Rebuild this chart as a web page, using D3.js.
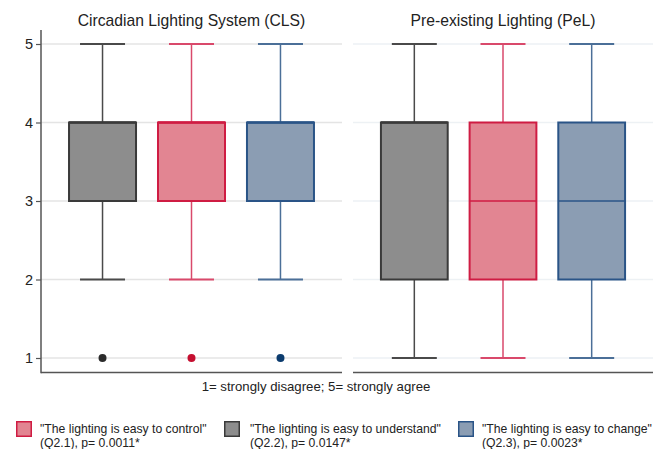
<!DOCTYPE html>
<html>
<head>
<meta charset="utf-8">
<script src="https://cdn.jsdelivr.net/npm/d3@7"></script>
<style>
  html, body { margin: 0; padding: 0; background: #fff; }
  svg { display: block; font-family: "Liberation Sans", Arial, Helvetica, sans-serif; }
</style>
</head>
<body>
<svg id="chart" width="654" height="449"></svg>
<script>
// Panels (lighting condition) and question order inside each panel
const panels = ["Circadian Lighting System (CLS)", "Pre-existing Lighting (PeL)"];
const questions = ["Q2.2", "Q2.1", "Q2.3"];

// Box-plot summaries per panel, in question order: [min, q1, median, q3, max]
const clsStats = [
  [2, 3, 4, 4, 5],
  [2, 3, 4, 4, 5],
  [2, 3, 4, 4, 5]
];
const pelStats = [
  [1, 2, 4, 4, 5],
  [1, 2, 3, 4, 5],
  [1, 2, 3, 4, 5]
];
// Outlying responses per panel, in question order
const clsOutliers = [[1], [1], [1]];
const pelOutliers = [[], [], []];

const yTicks = [1, 2, 3, 4, 5];
const caption = "1= strongly disagree; 5= strongly agree";

// Legend entries (legend order differs from plotting order)
const legendKeys = ["Q2.1", "Q2.2", "Q2.3"];
const legendLine1 = ['"The lighting is easy to control"', '"The lighting is easy to understand"', '"The lighting is easy to change"'];
const legendLine2 = ["(Q2.1), p= 0.0011*", "(Q2.2), p= 0.0147*", "(Q2.3), p= 0.0023*"];

// Styling per question
const fillColor = { "Q2.1": "#e28592", "Q2.2": "#8d8d8d", "Q2.3": "#8b9db3" };
const lineColor = { "Q2.1": "#cf1c43", "Q2.2": "#3a3a3a", "Q2.3": "#2a5487" };
const whiskerColor = { "Q2.1": "#d9496b", "Q2.2": "#4a4a4a", "Q2.3": "#4b6f98" };
const dotColor = { "Q2.1": "#c50f30", "Q2.2": "#2b2b2b", "Q2.3": "#0b3b6e" };

const svg = d3.select("#chart");

const y = d3.scaleLinear().domain([1, 5]).range([358, 44]);
const plotTop = 30, plotBottom = 372.5;

const panelRanges = [[41, 342], [353, 653]];
const gridColors = ["#e4e4e4", "#edf1f4"];
const statsByPanel = [clsStats, pelStats];
const outliersByPanel = [clsOutliers, pelOutliers];

panels.forEach((title, p) => {
  const [x0, x1] = panelRanges[p];
  const x = d3.scaleBand().domain(questions).range([x0, x1])
    .paddingInner(0.247).paddingOuter(0.315);
  const g = svg.append("g");

  // horizontal grid
  g.selectAll("line.grid").data(yTicks).join("line")
    .attr("x1", x0).attr("x2", x1)
    .attr("y1", d => y(d)).attr("y2", d => y(d))
    .attr("stroke", gridColors[p]).attr("stroke-width", 1.5);

  // bottom axis line
  g.append("line")
    .attr("x1", x0).attr("x2", x1)
    .attr("y1", plotBottom).attr("y2", plotBottom)
    .attr("stroke", "#555").attr("stroke-width", 1.5);

  // panel title
  g.append("text")
    .attr("x", (x0 + x1) / 2).attr("y", 26)
    .attr("text-anchor", "middle")
    .attr("font-size", 15.7).attr("fill", "#222")
    .text(title);

  const stats = statsByPanel[p];
  const outs = outliersByPanel[p];
  const capW = 45;

  questions.forEach((q, i) => {
    const [mn, q1, med, q3, mx] = stats[i];
    const cx = x(q) + x.bandwidth() / 2;
    const bx = g.append("g");

    // whiskers
    bx.append("line").attr("x1", cx).attr("x2", cx)
      .attr("y1", y(q3)).attr("y2", y(mx))
      .attr("stroke", whiskerColor[q]).attr("stroke-width", 1.5);
    bx.append("line").attr("x1", cx).attr("x2", cx)
      .attr("y1", y(q1)).attr("y2", y(mn))
      .attr("stroke", whiskerColor[q]).attr("stroke-width", 1.5);
    // caps
    [mn, mx].forEach(v => {
      bx.append("line").attr("x1", cx - capW / 2).attr("x2", cx + capW / 2)
        .attr("y1", y(v)).attr("y2", y(v))
        .attr("stroke", whiskerColor[q]).attr("stroke-width", 2);
    });
    // box
    bx.append("rect")
      .attr("x", x(q)).attr("width", x.bandwidth())
      .attr("y", y(q3)).attr("height", y(q1) - y(q3))
      .attr("fill", fillColor[q])
      .attr("stroke", lineColor[q]).attr("stroke-width", 2);
    // median
    bx.append("line")
      .attr("x1", x(q)).attr("x2", x(q) + x.bandwidth())
      .attr("y1", y(med)).attr("y2", y(med))
      .attr("stroke", lineColor[q]).attr("stroke-width", med === q3 ? 2.5 : 1.5);
    // outliers
    bx.selectAll("circle").data(outs[i]).join("circle")
      .attr("cx", cx).attr("cy", d => y(d)).attr("r", 4)
      .attr("fill", dotColor[q]);
  });

  // y axis on the first panel only
  if (p === 0) {
    const axis = d3.axisLeft(y).tickValues(yTicks).tickFormat(d3.format("d")).tickSize(5).tickPadding(3);
    const ag = svg.append("g").attr("transform", `translate(${x0},0)`).call(axis);
    ag.select(".domain").remove();
    ag.selectAll(".tick line").attr("stroke", "#555").attr("stroke-width", 1.2);
    ag.selectAll(".tick text").attr("font-size", 14.5).attr("fill", "#222")
      .attr("font-family", "Liberation Sans, Arial, sans-serif");
    svg.append("line").attr("x1", x0).attr("x2", x0)
      .attr("y1", plotTop).attr("y2", plotBottom + 0.75)
      .attr("stroke", "#555").attr("stroke-width", 1.5);
  }
});

// caption under panels
svg.append("text")
  .attr("x", 316).attr("y", 391)
  .attr("text-anchor", "middle")
  .attr("font-size", 13.2).attr("fill", "#222")
  .text(caption);

// legend
const legendSwatchX = [16, 224, 458];
const legendTextX = [40, 250, 482];
legendKeys.forEach((k, i) => {
  const lg = svg.append("g");
  lg.append("rect")
    .attr("x", legendSwatchX[i] + 0.75).attr("y", 421.75)
    .attr("width", 14.5).attr("height", 14.5)
    .attr("fill", fillColor[k]).attr("stroke", lineColor[k]).attr("stroke-width", 1.5);
  lg.append("text").attr("x", legendTextX[i]).attr("y", 433)
    .attr("font-size", 12.2).attr("fill", "#222").text(legendLine1[i]);
  lg.append("text").attr("x", legendTextX[i]).attr("y", 447)
    .attr("font-size", 12.2).attr("fill", "#222").text(legendLine2[i]);
});
</script>
</body>
</html>
